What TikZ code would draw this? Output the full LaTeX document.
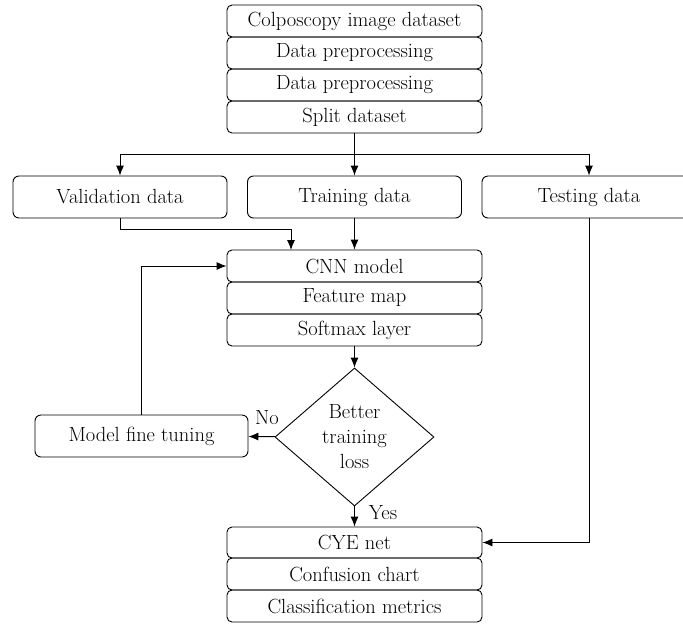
\documentclass[tikz,border=0pt]{standalone}
\usepackage{tikz}
\usetikzlibrary{arrows.meta,shapes.geometric,calc}
\tikzset{
    block/.style = {draw, rectangle, rounded corners=5pt,
        minimum height=32pt,
        minimum width=255pt, inner sep=0pt},
    branch/.style = {draw, rectangle, rounded corners=6pt,
        minimum height=42pt,
        minimum width=214pt, inner sep=0pt},
    decision/.style = {draw, diamond, aspect=1.15,
        minimum width=159pt, minimum height=138pt,
        inner sep=0pt, align=center},
    arrow/.style = {draw, -{Latex[length=10pt,width=8pt]}},
    lbl/.style = {inner sep=0pt}
}
\begin{document}
\begin{tikzpicture}[x=1pt,y=-1pt,line width=0.9pt,
    font=\fontsize{20.5}{25}\selectfont]
                \useasboundingbox (0,0) rectangle (683,625);
                % top stack
                \node [block] (data) at (354.5,21) {Colposcopy image dataset};
                \node [block] (prep1) at (354.5,53) {Data preprocessing};
                \node [block] (prep2) at (354.5,85) {Data preprocessing};
                \node [block] (split) at (354.5,117) {Split dataset};
                % branches
                \node [branch] (val) at (120,197) {Validation data};
                \node [branch] (train) at (354.5,197) {Training data};
                \node [branch] (test) at (589,197) {Testing data};
                \coordinate (fork) at (354.5,154);
                % model stack
                \node [block] (cnn) at (354.5,266) {CNN model};
                \node [block] (feat) at (354.5,298) {Feature map};
                \node [block] (soft) at (354.5,330) {Softmax layer};
                \coordinate (cnnin) at (291,250);
                \node [decision] (dec) at (354.5,437) {Better\\training\\loss};
                \node [branch, minimum width=213pt] (tune) at (141.5,436) {Model fine tuning};
                % result stack
                \node [block, minimum height=31pt] (cye) at (354.5,542.5) {CYE net};
                \node [block] (conf) at (354.5,574) {Confusion chart};
                \node [block] (metr) at (354.5,606) {Classification metrics};
                % connectors
                \draw (split) -- (fork);
                \draw [arrow] (fork) -| (val);
                \draw [arrow] (fork) -- (train);
                \draw [arrow] (fork) -| (test);
                \draw [arrow] (val.south) -- ++(0,11) -| (cnnin);
                \draw [arrow] (train) -- (cnn);
                \draw [arrow] (tune.north) |- (cnn.west);
                \draw [arrow] (soft) -- (dec);
                \draw [arrow] (dec) -- (tune);
                \draw [arrow] (dec) -- (cye);
                \draw [arrow] (test.south) |- (cye.east);
                \node [lbl] (no) at (267,418) {No};
                \node [lbl] (yes) at (383,513) {Yes};
            \end{tikzpicture}
\end{document}
